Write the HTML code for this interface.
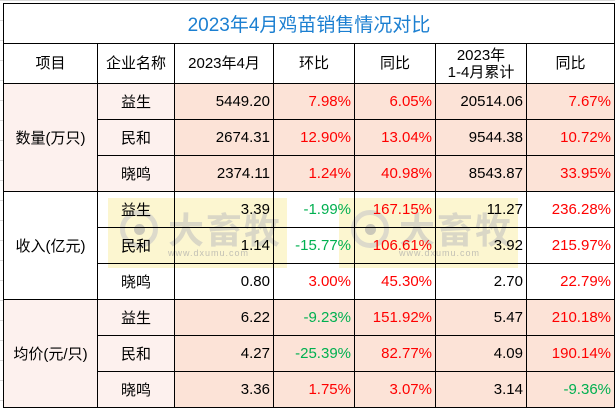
<!DOCTYPE html>
<html><head><meta charset="utf-8">
<style>
html,body{margin:0;padding:0;width:615px;height:410px;overflow:hidden;background:#fff;
font-family:"Liberation Sans","Noto Sans CJK SC",sans-serif;}
.grid{position:absolute;left:0;top:0;width:615px;height:410px;
background-image:linear-gradient(#d9d9d9 1px,transparent 1px);background-size:615px 20px;}
.bg{position:absolute;left:3px;top:3px;width:611px;height:405px;background:#fff}
table{position:absolute;left:3px;top:3px;border-collapse:collapse;table-layout:fixed;z-index:2}
td{border:1px solid #000;padding:0 4px;font-size:15px;color:#000;height:35px;white-space:nowrap;overflow:hidden;}
td.c{text-align:center}
td.r{text-align:right;padding-right:3px}
.title td{height:39px;font-size:19px;color:#1b7fd1;text-align:center;background:#fff}
.hdr td{height:39px;text-align:center;background:#fff;line-height:17px}
.p1{background:#fdf1ee}
.p2{background:#fce3d7}
.w{background:transparent}
.red{color:#ff0000}
.grn{color:#00b050}
.wm{position:absolute;top:198px;width:179px;height:70px;background:rgba(248,236,150,0.45);z-index:1}
.wm .logo{position:absolute;left:12px;top:12px;width:38px;height:38px;border-radius:50%;border:5px solid rgba(200,200,200,0.6);box-sizing:border-box}
.wm .logo::after{content:"";position:absolute;left:9px;top:9px;width:11px;height:11px;border-radius:50%;background:rgba(170,170,170,0.6)}
.wm .t{position:absolute;left:60px;top:4px;font-size:36px;font-weight:bold;color:rgba(190,190,190,0.55);letter-spacing:2px}
.wm .u{position:absolute;left:60px;top:50px;font-size:9px;color:rgba(170,170,170,0.7);letter-spacing:1px}
</style></head><body>
<div class="grid"></div>
<div class="bg"></div>
<div class="wm" style="left:108px"><div class="logo"></div><div class="t">大畜牧</div><div class="u">www.dxumu.com</div></div>
<div class="wm" style="left:339px"><div class="logo"></div><div class="t">大畜牧</div><div class="u">www.dxumu.com</div></div>
<table>
<colgroup><col style="width:94px"><col style="width:77px"><col style="width:99px"><col style="width:81px"><col style="width:81px"><col style="width:91px"><col style="width:88px"></colgroup>
<tr class="title"><td colspan="7">2023年4月鸡苗销售情况对比</td></tr>
<tr class="hdr"><td>项目</td><td>企业名称</td><td>2023年4月</td><td>环比</td><td>同比</td><td>2023年<br>1-4月累计</td><td>同比</td></tr>
<tr><td rowspan="3" class="c p1">数量(万只)</td><td class="c p1">益生</td><td class="r p2">5449.20</td><td class="r p2 red">7.98%</td><td class="r p2 red">6.05%</td><td class="r p2">20514.06</td><td class="r p2 red">7.67%</td></tr>
<tr><td class="c p1">民和</td><td class="r p2">2674.31</td><td class="r p2 red">12.90%</td><td class="r p2 red">13.04%</td><td class="r p2">9544.38</td><td class="r p2 red">10.72%</td></tr>
<tr><td class="c p1">晓鸣</td><td class="r p2">2374.11</td><td class="r p2 red">1.24%</td><td class="r p2 red">40.98%</td><td class="r p2">8543.87</td><td class="r p2 red">33.95%</td></tr>
<tr><td rowspan="3" class="c w">收入(亿元)</td><td class="c w">益生</td><td class="r w">3.39</td><td class="r w grn">-1.99%</td><td class="r w red">167.15%</td><td class="r w">11.27</td><td class="r w red">236.28%</td></tr>
<tr><td class="c w">民和</td><td class="r w">1.14</td><td class="r w grn">-15.77%</td><td class="r w red">106.61%</td><td class="r w">3.92</td><td class="r w red">215.97%</td></tr>
<tr><td class="c w">晓鸣</td><td class="r w">0.80</td><td class="r w red">3.00%</td><td class="r w red">45.30%</td><td class="r w">2.70</td><td class="r w red">22.79%</td></tr>
<tr><td rowspan="3" class="c p1">均价(元/只)</td><td class="c p1">益生</td><td class="r p2">6.22</td><td class="r p2 grn">-9.23%</td><td class="r p2 red">151.92%</td><td class="r p2">5.47</td><td class="r p2 red">210.18%</td></tr>
<tr><td class="c p1">民和</td><td class="r p2">4.27</td><td class="r p2 grn">-25.39%</td><td class="r p2 red">82.77%</td><td class="r p2">4.09</td><td class="r p2 red">190.14%</td></tr>
<tr><td class="c p1">晓鸣</td><td class="r p2">3.36</td><td class="r p2 red">1.75%</td><td class="r p2 red">3.07%</td><td class="r p2">3.14</td><td class="r p2 grn">-9.36%</td></tr>
</table>
</body></html>
